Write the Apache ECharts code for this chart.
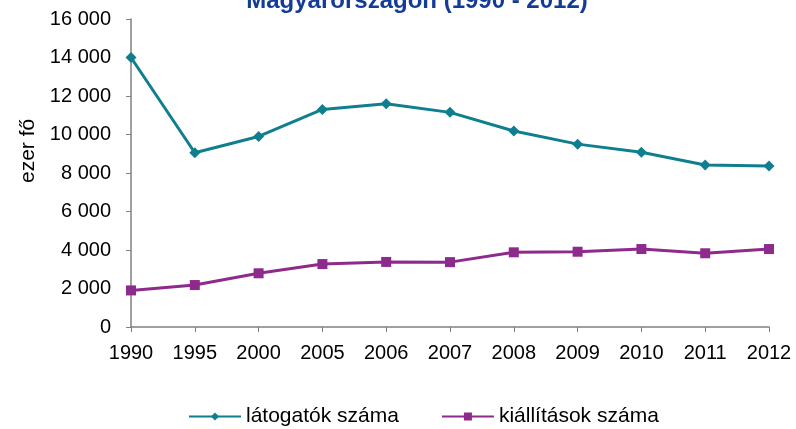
<!DOCTYPE html>
<html>
<head>
<meta charset="utf-8">
<script src="https://cdn.jsdelivr.net/npm/echarts@6/dist/echarts.min.js"></script>
<style>
  html, body { margin: 0; padding: 0; background: #fff; }
  #chart { width: 796px; height: 429px; }
</style>
</head>
<body>
<div id="chart"></div>
<script>
const years = ['1990', '1995', '2000', '2005', '2006', '2007', '2008', '2009', '2010', '2011', '2012']
const visitors = [14000, 9050, 9900, 11300, 11600, 11150, 10180, 9500, 9080, 8420, 8370]
const exhibitions = [1900, 2180, 2790, 3270, 3380, 3370, 3880, 3910, 4050, 3830, 4050]

const font = 'Liberation Sans, Arial, sans-serif'
const teal = '#0F7F8F'
const purple = '#8E2A8C'

const fmt = (v) => String(v).replace(/\B(?=(\d{3})+(?!\d))/g, ' ')

const chart = echarts.init(document.getElementById('chart'))

chart.setOption({
  animation: false,
  backgroundColor: '#fff',
  title: {
    text: 'Magyarországon (1990 - 2012)',
    left: 412,
    textAlign: 'center',
    top: -16,
    textStyle: { color: '#143C96', fontSize: 24, fontWeight: 'bold', fontFamily: font }
  },
  grid: { left: 131, right: 27, top: 19, bottom: 102 },
  legend: {
    top: 406,
    left: 188,
    padding: 0,
    itemWidth: 52,
    itemHeight: 10,
    itemGap: 42,
    textStyle: { fontSize: 21, color: '#000', fontFamily: font },
    data: ['látogatók száma', 'kiállítások száma']
  },
  graphic: [{
    type: 'text',
    x: 18,
    y: 183,
    rotation: Math.PI / 2,
    style: { text: 'ezer fő', fontSize: 21, fontFamily: font, fill: '#000' }
  }],
  xAxis: {
    type: 'category',
    data: years,
    boundaryGap: false,
    axisLine: { lineStyle: { color: '#808080', width: 1.5 } },
    axisTick: { show: true, length: 5, lineStyle: { color: '#808080' } },
    axisLabel: { color: '#000', fontSize: 20, fontFamily: font, margin: 16 }
  },
  yAxis: {
    type: 'value',
    min: 0,
    max: 16000,
    interval: 2000,
    splitLine: { show: false },
    axisLine: { show: true, lineStyle: { color: '#808080', width: 1.5 } },
    axisTick: { show: true, length: 5, lineStyle: { color: '#808080' } },
    axisLabel: { color: '#000', fontSize: 20, fontFamily: font, margin: 20, formatter: fmt }
  },
  series: [
    {
      name: 'látogatók száma',
      type: 'line',
      data: visitors,
      symbol: 'diamond',
      symbolSize: 11,
      color: teal,
      lineStyle: { width: 3, color: teal },
      itemStyle: { color: teal }
    },
    {
      name: 'kiállítások száma',
      type: 'line',
      data: exhibitions,
      symbol: 'rect',
      symbolSize: 10,
      color: purple,
      lineStyle: { width: 3, color: purple },
      itemStyle: { color: purple }
    }
  ]
})
</script>
</body>
</html>
